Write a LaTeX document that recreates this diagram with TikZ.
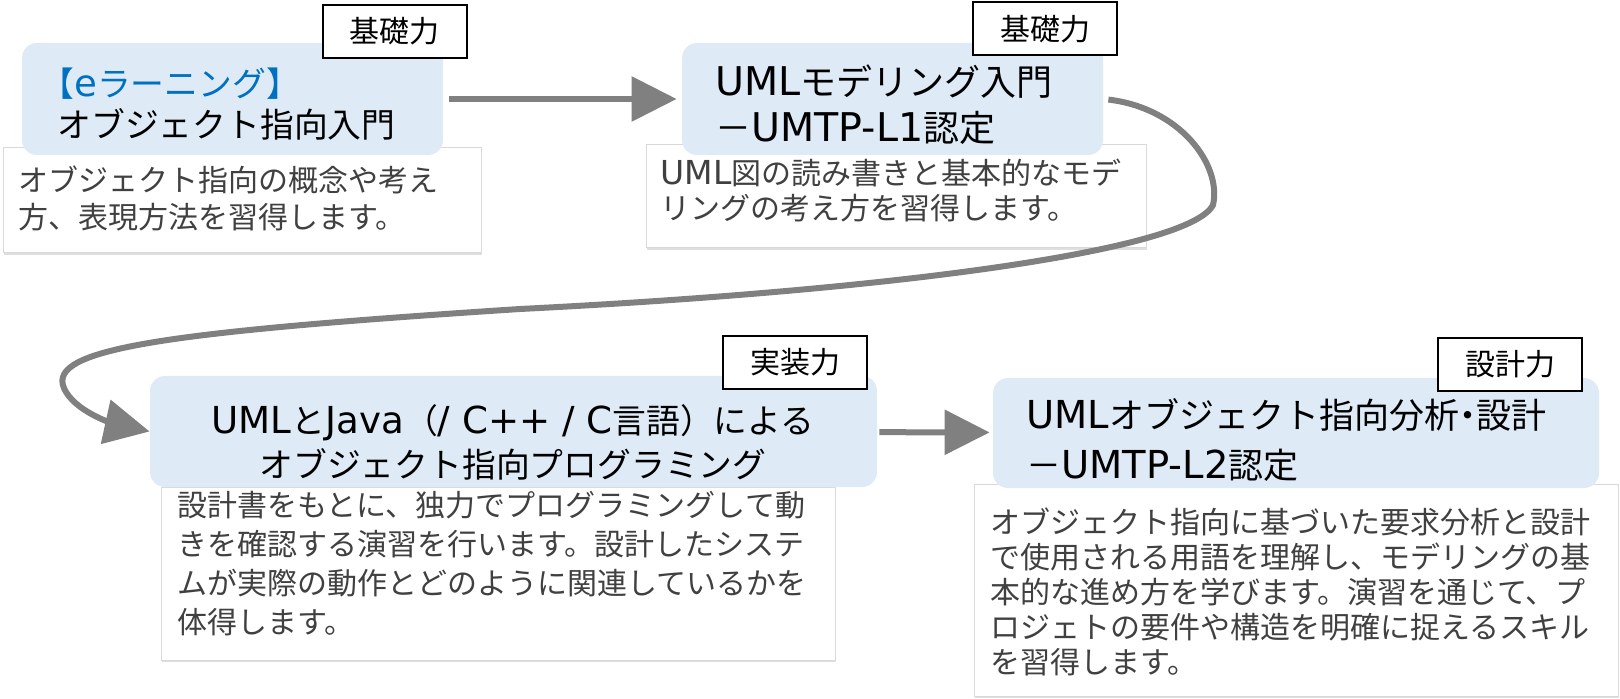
\documentclass[tikz,border=0pt]{standalone}
\usepackage{fontspec}
\setmainfont{Noto Sans CJK JP}
\newfontfamily\enfont{DejaVu Sans}[Scale=1.1]
\usepackage{tikz}
\usetikzlibrary{calc,shadows,arrows.meta,fit,positioning}

\definecolor{kbluefill}{HTML}{DEEBF7}
\definecolor{karrow}{HTML}{808080}
\definecolor{kelearn}{HTML}{0070C0}
\definecolor{kdesc}{HTML}{404040}

\begin{document}
\begin{tikzpicture}[x=0.5pt,y=-0.5pt,
		titlebox/.style={fill=kbluefill, rounded corners=7.5pt, inner sep=0pt},
		descbox/.style={fill=white, draw=black!15, line width=0.5pt, inner sep=0pt, drop shadow={shadow xshift=0.6pt, shadow yshift=-0.8pt, opacity=0.25}},
		levelbox/.style={draw=black, line width=1pt, fill=white, minimum width=72pt, minimum height=26.5pt, inner sep=0pt, font=\fontsize{15}{18}\selectfont},
		titletext/.style={align=left, inner sep=0pt, font=\fontsize{16.9}{20.5}\selectfont},
		desctext/.style={align=left, inner sep=0pt, text=kdesc, font=\fontsize{15}{18}\selectfont},
		flow/.style={->, line width=3pt, draw=karrow},
		>={Triangle[length=22.5pt,width=22pt]}]
		
		\useasboundingbox (0,0) rectangle (1620,699);
		
		\node[descbox, fit={(3,148) (481,253)}] (d1) {};
		\node[descbox, fit={(646,145) (1146,248)}] (d2) {};
		\node[descbox, fit={(161,487) (835,660)}] (d3) {};
		\node[descbox, fit={(974,484) (1618,696)}] (d4) {};
		
		\node[titlebox, fit={(22,43) (443,155)}] (b1) {};
		\node[titlebox, fit={(682,43) (1103,155)}] (b2) {};
		\node[titlebox, fit={(150,376) (877,487)}] (b3) {};
		\node[titlebox, fit={(993,378) (1599,488)}] (b4) {};
		
		\node[levelbox] (l1) at (394.5,31.5) {基礎力};
		\node[levelbox] (l2) at (1045,29) {基礎力};
		\node[levelbox] (l3) at (795,362.5) {実装力};
		\node[levelbox] (l4) at (1510,364.5) {設計力};
		
		\node[titletext, anchor=west] (t1) at (57,104) {\hspace*{-0.5em}{\color{kelearn}【{\enfont e}ラーニング】}\\オブジェクト指向入門};
		\node[titletext, anchor=west, font=\fontsize{18}{23}\selectfont] (t2) at (715,105) {{\enfont UML}モデリング入門\\－{\enfont UMTP-L1}認定};
		\node[titletext, align=center, font=\fontsize{16.9}{22}\selectfont] (t3) at (513,442) {{\enfont UML}と{\enfont Java}（{\enfont / C++ / C}言語）による\\オブジェクト指向プログラミング};
		\node[titletext, anchor=west, font=\fontsize{17.5}{25}\selectfont] (t4) at (1026,440) {{\enfont UML}オブジェクト指向分析\hspace{-0.25em}・\hspace{-0.25em}設計\\－{\enfont UMTP-L2}認定};
		
		\node[desctext, anchor=west, font=\fontsize{15}{18.5}\selectfont] (e1) at (18,198.5) {オブジェクト指向の概念や考え\\方、表現方法を習得します。};
		\node[desctext, anchor=west, font=\fontsize{15}{17.5}\selectfont] (e2) at (660,190.5) {{\enfont UML}図の読み書きと基本的なモデ\\リングの考え方を習得します。};
		\node[desctext, anchor=west, font=\fontsize{15}{19.5}\selectfont] (e3) at (177,563.5) {設計書をもとに、独力でプログラミングして動\\きを確認する演習を行います。設計したシステ\\ムが実際の動作とどのように関連しているかを\\体得します。};
		\node[desctext, anchor=west, font=\fontsize{15}{17.5}\selectfont] (e4) at (990,592) {オブジェクト指向に基づいた要求分析と設計\\で使用される用語を理解し、モデリングの基\\本的な進め方を学びます。演習を通じて、プ\\ロジェトの要件や構造を明確に捉えるスキル\\を習得します。};
		
		\draw[flow, shorten <=3pt, shorten >=2.5pt] (b1) -- (b2);
		\draw[flow, shorten <=1pt, shorten >=1.5pt] (b3) -- (b4);
		\draw[flow, shorten <=2.5pt] (b2.east) .. controls (1180,108) and (1222,165) .. (1213,205) .. controls (1190,250) and (900,290) .. (520,309) .. controls (150,333) and (40,350) .. (66,392) .. controls (80,415) and (120,425) .. (b3.west);
		
	\end{tikzpicture}
\end{document}
